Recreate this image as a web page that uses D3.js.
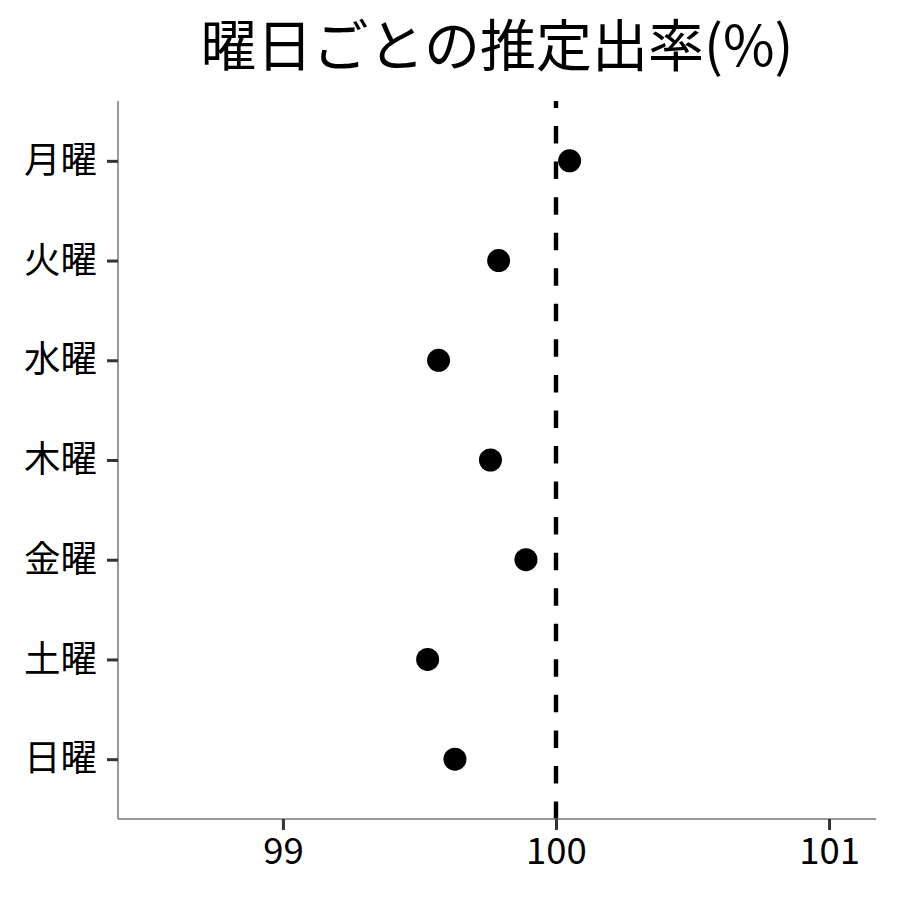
<!DOCTYPE html>
<html>
<head>
<meta charset="utf-8">
<script src="https://cdn.jsdelivr.net/npm/d3@7"></script>
<style>
  body { margin: 0; background: #fff; }
  text { font-family: "Noto Sans CJK JP", "Noto Sans", sans-serif; }
</style>
</head>
<body>
<div id="chart"></div>
<script>
const days = ['月曜', '火曜', '水曜', '木曜', '金曜', '土曜', '日曜'];
const rates = [100.05, 99.79, 99.57, 99.76, 99.89, 99.53, 99.63];
const xTicks = [99, 100, 101];
const refValue = 100;
const title = '曜日ごとの推定出率(%)';

const width = 900, height = 900;
const margin = { top: 101, right: 24, bottom: 81, left: 118 };
const innerW = width - margin.left - margin.right;
const innerH = height - margin.top - margin.bottom;

const svg = d3.select('#chart')
  .append('svg')
  .attr('width', width)
  .attr('height', height);

svg.append('text')
  .attr('x', 497)
  .attr('y', 66)
  .attr('text-anchor', 'middle')
  .attr('font-size', 56)
  .attr('fill', '#000')
  .text(title);

const g = svg.append('g')
  .attr('transform', `translate(${margin.left}, ${margin.top})`);

const xScale = d3.scaleLinear()
  .domain([98.396, 101.172])
  .range([0, innerW]);

// discrete scale with ggplot-like 0.6 expansion
const yScale = d3.scalePoint()
  .domain(days)
  .range([0, innerH])
  .padding(0.6);

// dashed reference line, drawn bottom-up so dashes start at the axis
g.append('line')
  .attr('x1', xScale(refValue))
  .attr('x2', xScale(refValue))
  .attr('y1', innerH)
  .attr('y2', 0)
  .attr('stroke', '#000')
  .attr('stroke-width', 4.4)
  .attr('stroke-dasharray', '17.5,18.05');

g.selectAll('circle')
  .data(days)
  .enter()
  .append('circle')
  .attr('cx', (d, i) => xScale(rates[i]))
  .attr('cy', (d) => yScale(d))
  .attr('r', 11.5)
  .attr('fill', '#000');

const xAxis = d3.axisBottom(xScale).tickValues(xTicks).tickSize(11).tickPadding(8).tickFormat(d3.format('d'));
g.append('g')
  .attr('class', 'x-axis')
  .attr('transform', `translate(0, ${innerH})`)
  .call(xAxis);

const yAxis = d3.axisLeft(yScale).tickSize(11).tickPadding(10);
g.append('g')
  .attr('class', 'y-axis')
  .call(yAxis);

d3.selectAll('.x-axis path, .y-axis path')
  .attr('stroke', '#777')
  .attr('stroke-width', 1.5)
  .attr('d', function () {
    return d3.select(this.parentNode).classed('x-axis')
      ? `M0,0H${innerW}` : `M0,0V${innerH}`;
  });
d3.selectAll('.x-axis line, .y-axis line').attr('stroke', '#333').attr('stroke-width', 3);
d3.selectAll('.x-axis text, .y-axis text')
  .attr('fill', '#000')
  .attr('font-size', 36.5)
  .attr('font-family', '"Noto Sans CJK JP", "Noto Sans", sans-serif');
</script>
</body>
</html>
